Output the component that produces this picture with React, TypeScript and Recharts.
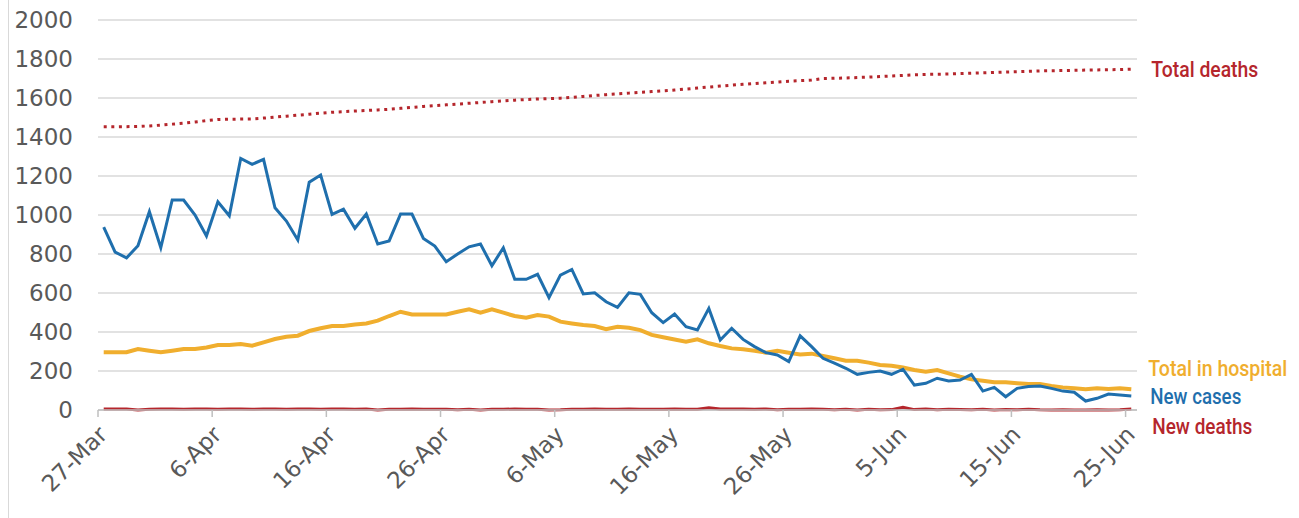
import { CartesianGrid, Line, LineChart, XAxis, YAxis } from 'recharts';

// one value per day, 27-Mar .. 25-Jun
const tickLabels = ['27-Mar', '6-Apr', '16-Apr', '26-Apr', '6-May', '16-May', '26-May', '5-Jun', '15-Jun', '25-Jun'];

const newCases = [
  938, 810, 780, 842, 1017, 832, 1077, 1077, 1000, 892,
  1068, 996, 1290, 1260, 1285, 1037, 969, 872, 1168, 1205,
  1003, 1030, 932, 1005, 851, 867, 1005, 1005, 880, 841,
  760, 800, 837, 851, 740, 832, 670, 670, 696, 576,
  692, 721, 595, 601, 555, 526, 601, 593, 499, 448,
  492, 427, 410, 521, 359, 419, 362, 325, 294, 282,
  248, 380, 325, 265, 240, 214, 183, 193, 200, 183,
  209, 128, 137, 163, 149, 154, 183, 97, 116, 68,
  111, 120, 123, 111, 97, 91, 46, 60, 82, 77,
  72,
];

const totalInHospital = [
  296, 296, 296, 313, 304, 296, 304, 313, 313, 321,
  333, 333, 338, 330, 347, 364, 376, 381, 405, 419,
  431, 431, 439, 444, 458, 482, 504, 490, 490, 490,
  490, 504, 516, 499, 516, 499, 482, 473, 487, 479,
  453, 444, 436, 431, 414, 427, 422, 410, 385, 373,
  362, 350, 362, 342, 328, 316, 311, 304, 294, 304,
  294, 285, 289, 277, 265, 253, 253, 243, 231, 227,
  218, 205, 196, 205, 188, 171, 157, 150, 142, 142,
  137, 133, 133, 123, 116, 111, 106, 111, 108, 111,
  106,
];

const totalDeaths = [
  1452, 1452, 1453, 1454, 1457, 1461, 1466, 1471, 1477, 1484,
  1490, 1491, 1492, 1493, 1497, 1502, 1507, 1512, 1517, 1522,
  1527, 1530, 1533, 1536, 1539, 1542, 1547, 1552, 1557, 1561,
  1565, 1569, 1573, 1577, 1581, 1585, 1589, 1592, 1595, 1597,
  1599, 1603, 1608, 1613, 1617, 1621, 1625, 1629, 1633, 1637,
  1641, 1646, 1651, 1656, 1661, 1666, 1670, 1674, 1678, 1682,
  1686, 1689, 1692, 1700, 1701, 1703, 1705, 1707, 1710, 1713,
  1716, 1719, 1721, 1722, 1723, 1725, 1727, 1729, 1731, 1733,
  1735, 1737, 1739, 1740, 1741, 1742, 1743, 1744, 1745, 1746,
  1748,
];

const newDeaths = [
  5, 5, 5, 0, 4, 5, 5, 4, 5, 5,
  4, 5, 5, 4, 5, 5, 4, 5, 5, 4,
  5, 5, 4, 5, 0, 4, 4, 5, 4, 4,
  4, 1, 4, 0, 4, 4, 5, 4, 4, 0,
  1, 4, 4, 5, 4, 4, 5, 4, 4, 4,
  5, 4, 4, 12, 5, 5, 5, 4, 5, 1,
  4, 4, 5, 4, 1, 4, 0, 4, 1, 2,
  14, 2, 5, 1, 4, 3, 1, 4, 0, 2,
  1, 4, 1, 0, 1, 0, 0, 1, 0, 1,
  5,
];

const yTicks = [0, 200, 400, 600, 800, 1000, 1200, 1400, 1600, 1800, 2000];

const data = newCases.map((v, i) => ({
  day: i,
  newCases: v,
  hospital: totalInHospital[i],
  totalDeaths: totalDeaths[i],
  newDeaths: newDeaths[i],
}));

const labelTicks = tickLabels.map((_, k) => k * 10);
const xTicks = [...labelTicks.map((t) => t - 0.5), ...labelTicks].sort((a, b) => a - b);
const last = data.length - 1;

const DayTick = ({ x, y, payload }: any) => {
  const v = payload.value;
  if (!Number.isInteger(v)) {
    return <line x1={x} x2={x} y1={y} y2={y + 7} stroke="#bfbfbf" strokeWidth={1.5} />;
  }
  const ax = x + 5;
  const ay = y + 26;
  return (
    <text
      x={ax}
      y={ay}
      transform={`rotate(-45 ${ax} ${ay})`}
      textAnchor="end"
      fill="#595959"
      fontSize={23}
      fontFamily="'DejaVu Sans', sans-serif"
    >
      {tickLabels[v / 10]}
    </text>
  );
};

// series name written just right of the line's last point
const endLabel = (text: string, color: string, dx: number, dy: number, width: number) => (props: any) => {
  if (props.index !== last) return <g />;
  return (
    <text
      x={props.x + dx}
      y={props.y + dy}
      dominantBaseline="central"
      fill={color}
      fontSize={22}
      fontWeight={500}
      fontFamily="Roboto, sans-serif"
      textLength={width}
      lengthAdjust="spacingAndGlyphs"
    >
      {text}
    </text>
  );
};

export default function App() {
  return (
    <div style={{ position: 'absolute', left: 0, top: 0, width: 1299, height: 518, background: '#fff' }}>
      <div style={{ position: 'absolute', left: 8, top: 0, width: 1, height: 518, background: '#d9d9d9' }} />
      <LineChart width={1299} height={518} data={data} margin={{ top: 20, right: 162, bottom: 0, left: 0 }}>
        <CartesianGrid vertical={false} stroke="#d9d9d9" strokeWidth={1.5} />
        <XAxis
          dataKey="day"
          type="number"
          domain={[-0.5, 90.5]}
          ticks={xTicks}
          interval={0}
          height={108}
          tickLine={false}
          tickSize={0}
          tickMargin={0}
          tick={<DayTick />}
          axisLine={{ stroke: '#bfbfbf', strokeWidth: 1.5 }}
        />
        <YAxis
          width={98}
          domain={[0, 2000]}
          ticks={yTicks}
          interval={0}
          axisLine={false}
          tickLine={false}
          tickMargin={19}
          tick={{ fill: '#595959', fontSize: 23, fontFamily: "'DejaVu Sans', sans-serif" }}
        />
        <Line
          dataKey="totalDeaths"
          stroke="#b5262c"
          strokeWidth={3}
          strokeDasharray="3 4.6"
          dot={false}
          isAnimationActive={false}
          label={endLabel('Total deaths', '#b5262c', 20, 0, 107)}
        />
        <Line
          dataKey="hospital"
          stroke="#f0ae2e"
          strokeWidth={4}
          dot={false}
          isAnimationActive={false}
          label={endLabel('Total in hospital', '#f0ae2e', 17, -21, 139)}
        />
        <Line
          dataKey="newCases"
          stroke="#1f6fad"
          strokeWidth={3}
          dot={false}
          isAnimationActive={false}
          label={endLabel('New cases', '#1f6fad', 19, 1, 91)}
        />
        <Line
          dataKey="newDeaths"
          stroke="#b5262c"
          strokeWidth={3}
          dot={false}
          isAnimationActive={false}
          label={endLabel('New deaths', '#b5262c', 21, 17, 100)}
        />
      </LineChart>
    </div>
  );
}
